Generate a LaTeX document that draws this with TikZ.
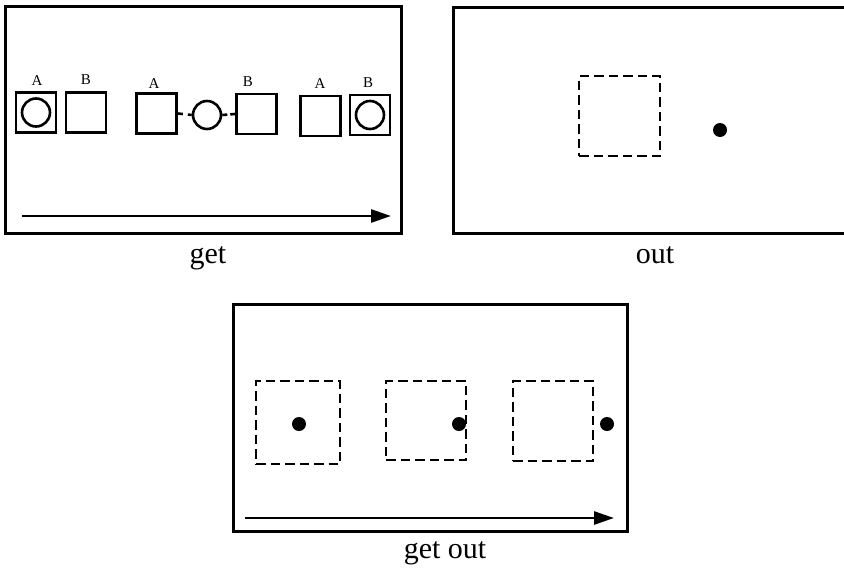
\documentclass[tikz,border=0pt]{standalone}
\usepackage{fontspec}
\setmainfont{Liberation Serif}
\usetikzlibrary{arrows.meta}
\begin{document}
\begin{tikzpicture}[x=1pt,y=-1pt,
  frame/.style={line width=3pt},
  cell/.style={draw,line width=2.8pt,minimum size=40pt,inner sep=0pt},
  ring/.style={draw,circle,line width=2.6pt,minimum size=28pt,inner sep=0pt},
  ghost/.style={draw,dash pattern=on 9.5pt off 5pt,line width=1.7pt,inner sep=0pt},
  dot/.style={circle,fill=black,minimum size=14pt,inner sep=0pt},
  lab/.style={font=\fontsize{15}{15}\selectfont,inner sep=0pt,anchor=base},
  caption/.style={font=\fontsize{30}{30}\selectfont,inner sep=0pt,anchor=base},
  timeline/.style={line width=2.7pt,-{Triangle[length=20pt,width=13pt]}}]
\useasboundingbox (0,0) rectangle (844,568);

% panel "get"
\draw[frame] (5,6) rectangle (401,233);
\node[cell] (a1) at (36,112.5) {};
\node[ring] at (a1) {};
\node[cell] (b1) at (86,112.5) {};
\node[cell] (a2) at (156.5,113.5) {};
\node[ring] (c2) at (207,115) {};
\node[cell] (b2) at (256.5,114) {};
\node[cell] (a3) at (320.5,116) {};
\node[cell] (b3) at (370,115) {};
\node[ring] at (b3) {};
\node[lab] at (37,85) {A};
\node[lab] at (86,84) {B};
\node[lab] at (154,88) {A};
\node[lab] at (248,86) {B};
\node[lab] at (320,88) {A};
\node[lab] at (368,87) {B};
\draw[line width=2.6pt,dash pattern=on 5pt off 5pt] (a2.east) -- (c2.west);
\draw[line width=2.6pt,dash pattern=on 5pt off 3pt] (c2.east) -- (b2.west);
\coordinate (g0) at (22,216);
\coordinate (g1) at (391,216);
\draw[timeline] (g0) -- (g1);
\node[caption] (tg) at (208,263) {get};

% panel "out"
\draw[frame] (850,7) -- (453,7) -- (453,233) -- (850,233);
\node[ghost,minimum width=81pt,minimum height=80pt] (o1) at (619.5,116) {};
\node[dot] (od) at (720,130) {};
\node[caption] (to) at (655,263) {out};

% panel "get out"
\draw[frame] (233,304) rectangle (627,531);
\node[ghost,minimum width=84pt,minimum height=83pt] (s1) at (298,422.5) {};
\node[ghost,minimum width=80pt,minimum height=79pt] (s2) at (426,420.5) {};
\node[ghost,minimum width=80pt,minimum height=80pt] (s3) at (553,421) {};
\node[dot] (d1) at (299,424) {};
\node[dot] (d2) at (459,424) {};
\node[dot] (d3) at (607,424) {};
\coordinate (h0) at (245,518);
\coordinate (h1) at (614,518);
\draw[timeline] (h0) -- (h1);
\node[caption] (tgo) at (445,558) {get out};
\end{tikzpicture}
\end{document}
